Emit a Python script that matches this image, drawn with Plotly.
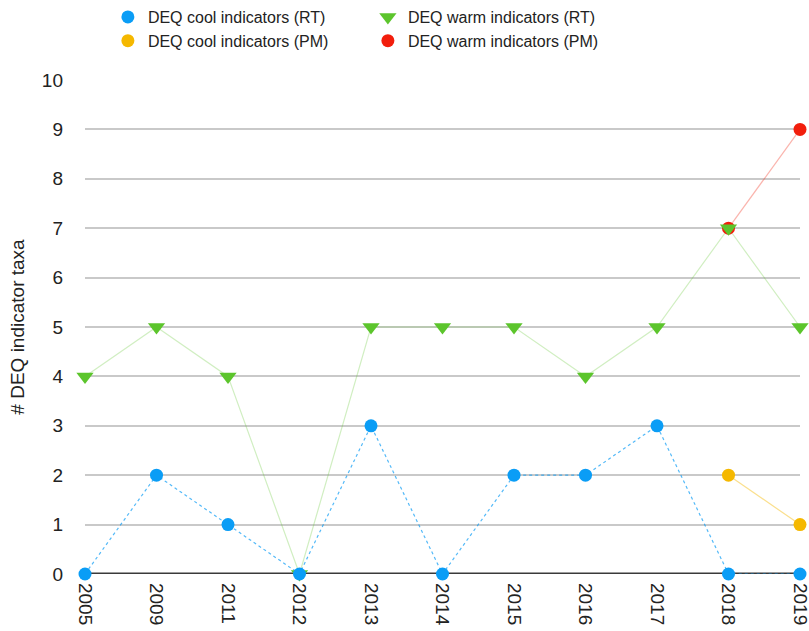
import plotly.graph_objects as go

years = ["2005", "2009", "2011", "2012", "2013", "2014", "2015", "2016", "2017", "2018", "2019"]
cool_rt = [0, 2, 1, 0, 3, 0, 2, 2, 3, 0, 0]
warm_rt = [4, 5, 4, 0, 5, 5, 5, 4, 5, 7, 5]
pm_years = ["2018", "2019"]
cool_pm = [2, 1]
warm_pm = [7, 9]
y_ticks = list(range(0, 11))

FONT = "Liberation Sans, Arial, Helvetica, sans-serif"

series = [
    # name, x, y, line color, line dash, marker color, symbol, size, legendrank
    ("DEQ warm indicators (PM)", pm_years, warm_pm, "rgba(242,40,20,0.35)", "solid", "#f21e0c", "circle", 13, 4),
    ("DEQ warm indicators (RT)", years, warm_rt, "rgba(98,200,50,0.3)", "solid", "#5cc52c", "triangle-down", 15, 2),
    ("DEQ cool indicators (PM)", pm_years, cool_pm, "rgba(245,184,0,0.45)", "solid", "#f5b800", "circle", 13, 3),
    ("DEQ cool indicators (RT)", years, cool_rt, "rgba(10,155,245,0.7)", "dot", "#0a9df6", "circle", 13, 1),
]

fig = go.Figure()
for name, xs, ys, lc, dash, mc, sym, sz, rank in series:
    fig.add_trace(go.Scatter(x=xs, y=ys, mode="lines", showlegend=False, hoverinfo="skip",
                             line=dict(color=lc, width=1.2, dash=dash)))
for name, xs, ys, lc, dash, mc, sym, sz, rank in series:
    fig.add_trace(go.Scatter(x=xs, y=ys, mode="markers", name=name, legendrank=rank,
                             marker=dict(color=mc, size=sz, symbol=sym), cliponaxis=False))

fig.update_layout(
    width=809, height=631,
    margin=dict(l=85, r=9, t=80, b=57),
    paper_bgcolor="white", plot_bgcolor="white",
    font=dict(family=FONT, size=16, color="#222"),
    showlegend=True,
    legend=dict(orientation="h", x=0.032, y=1.0, xanchor="left", yanchor="top",
                yref="container", entrywidth=215, entrywidthmode="pixels",
                font=dict(size=16, color="#222"), tracegroupgap=0,
                bgcolor="rgba(0,0,0,0)"),
    xaxis=dict(type="category", categoryorder="array", categoryarray=years,
               range=[0, 10], showgrid=False, zeroline=False, showline=False,
               ticks="", tickangle=90, tickfont=dict(size=19, color="#222"),
               ticklabelstandoff=8, automargin=False),
    yaxis=dict(range=[0, 10], tickvals=y_ticks, showgrid=True, gridcolor="#c9c9c9",
               gridwidth=2, zeroline=False, showline=False, ticks="",
               tickfont=dict(size=19, color="#222"), ticklabelstandoff=21, automargin=False,
               title=dict(text="# DEQ indicator taxa", font=dict(size=19, color="#222"), standoff=12)),
)
fig.add_shape(type="line", xref="paper", yref="y", x0=0, x1=1, y0=0, y1=0,
              line=dict(color="#3a3a3a", width=3), layer="below")
fig.write_html("out.html", config={"displayModeBar": False},
               post_script="document.body.style.margin='0px';")
